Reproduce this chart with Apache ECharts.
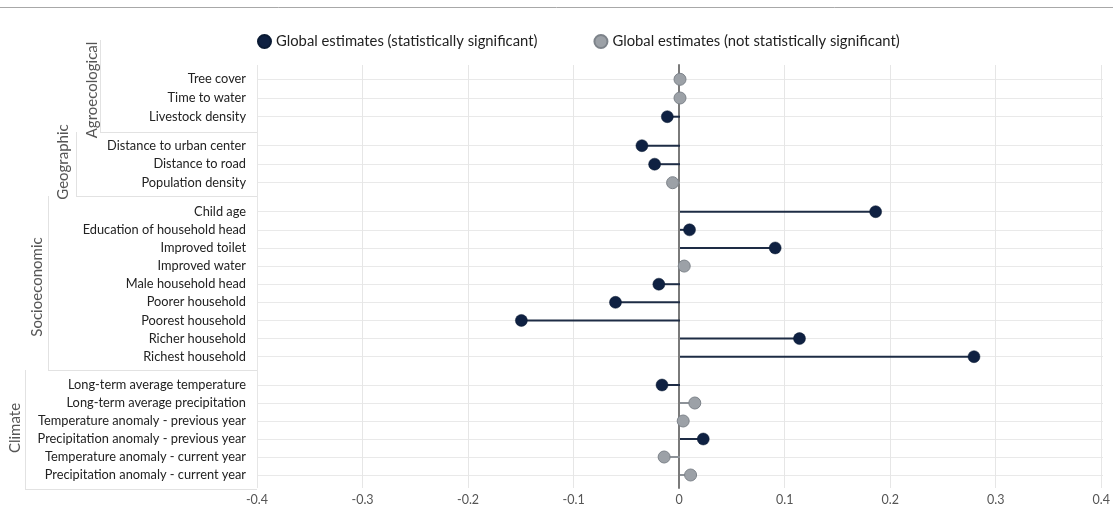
<!DOCTYPE html>
<html><head><meta charset="utf-8">
<script src="https://cdn.jsdelivr.net/npm/echarts@6/dist/echarts.min.js"></script>
<style>html,body{margin:0;padding:0;background:#fff}#c{width:1113px;height:506px}</style>
</head><body><div id="c"></div>
<script>
// ---- data ----
const groupNames = ['Agroecological', 'Geographic', 'Socioeconomic', 'Climate'];
const agroNames = ['Tree cover', 'Time to water', 'Livestock density'];
const agroValues = [0.0, 0.0, -0.012];
const agroSig = [0, 0, 1];
const geoNames = ['Distance to urban center', 'Distance to road', 'Population density'];
const geoValues = [-0.036, -0.024, -0.007];
const geoSig = [1, 1, 0];
const socioNames = ['Child age', 'Education of household head', 'Improved toilet', 'Improved water',
  'Male household head', 'Poorer household', 'Poorest household', 'Richer household', 'Richest household'];
const socioValues = [0.185, 0.009, 0.090, 0.004, -0.020, -0.061, -0.150, 0.113, 0.278];
const socioSig = [1, 1, 1, 0, 1, 1, 1, 1, 1];
const climNames = ['Long-term average temperature', 'Long-term average precipitation',
  'Temperature anomaly - previous year', 'Precipitation anomaly - previous year',
  'Temperature anomaly - current year', 'Precipitation anomaly - current year'];
const climValues = [-0.017, 0.014, 0.003, 0.022, -0.015, 0.010];
const climSig = [1, 0, 0, 1, 0, 0];
const xTicks = [-0.4, -0.3, -0.2, -0.1, 0, 0.1, 0.2, 0.3, 0.4];
const seriesSigName = 'Global estimates (statistically significant)';
const seriesNsName = 'Global estimates (not statistically significant)';

// ---- style / layout ----
const DARK = '#0f2142', GRAY = '#9ca1a7', GRAY_BORDER = '#7d838a', GRAY_STEM = '#8d9298';
const FONT = 'Lato';
const L = 257, R = 10;
const groupDefs = [
  {names: agroNames, values: agroValues, sig: agroSig, top: 79.3, bottom: 116.7},
  {names: geoNames, values: geoValues, sig: geoSig, top: 145.7, bottom: 182.7},
  {names: socioNames, values: socioValues, sig: socioSig, top: 211.7, bottom: 356.7},
  {names: climNames, values: climValues, sig: climSig, top: 385, bottom: 475}
];
const H = 506;

const grid = [{left: L, right: R, top: 65, bottom: H - 490}];
const xAxis = [{
  gridIndex: 0, type: 'value', min: xTicks[0], max: xTicks[xTicks.length - 1], interval: 0.1,
  axisLine: {show: false}, axisTick: {show: false},
  splitLine: {show: true, lineStyle: {color: '#e6e6e6', width: 1}},
  axisLabel: {show: true, margin: 5, fontFamily: FONT, fontSize: 12.5, color: '#555',
    formatter: v => String(Math.round(v * 10) / 10)}
}];
const yAxis = [{
  gridIndex: 0, type: 'value', min: 0, max: 1, show: true,
  axisLine: {show: true, onZero: true, lineStyle: {color: '#7a7a7a', width: 2}},
  axisTick: {show: false}, axisLabel: {show: false}, splitLine: {show: false}
}];
const series = [{type: 'scatter', xAxisIndex: 0, yAxisIndex: 0, data: [], silent: true}];

groupDefs.forEach((g, i) => {
  const gi = i + 1;
  grid.push({left: L, right: R, top: g.top, height: g.bottom - g.top});
  xAxis.push({gridIndex: gi, type: 'value', min: xTicks[0], max: xTicks[xTicks.length - 1],
    interval: 0.1, show: false, splitLine: {show: false}});
  yAxis.push({gridIndex: gi, type: 'category', data: g.names, inverse: true, boundaryGap: false,
    axisLine: {show: false}, axisTick: {show: false},
    splitLine: {show: true, lineStyle: {color: '#e9e9e9', width: 1}},
    axisLabel: {margin: 11, fontFamily: FONT, fontSize: 12.8, color: '#222'}});
  const all = g.names.map((n, k) => [g.values[k], n, g.sig[k]]);
  series.push({
    type: 'custom', xAxisIndex: gi, yAxisIndex: gi, silent: true, z: 3,
    encode: {x: 0, y: 1},
    data: all,
    renderItem: (params, api) => {
      const v = api.value(0), c = api.value(1), s = api.value(2);
      const p0 = api.coord([0, c]), p1 = api.coord([v, c]);
      return {type: 'line', shape: {x1: p0[0], y1: p0[1], x2: p1[0], y2: p1[1]},
        style: {stroke: s ? '#1e2c45' : GRAY_STEM, lineWidth: 2}};
    }
  });
  series.push({
    name: seriesSigName, type: 'scatter', xAxisIndex: gi, yAxisIndex: gi, z: 5,
    symbol: 'circle', symbolSize: 12,
    itemStyle: {color: DARK, borderColor: '#0a1a33', borderWidth: 0.5, opacity: 1},
    data: all.filter(d => d[2] === 1).map(d => [d[0], d[1]])
  });
  series.push({
    name: seriesNsName, type: 'scatter', xAxisIndex: gi, yAxisIndex: gi, z: 4,
    symbol: 'circle', symbolSize: 12,
    itemStyle: {color: GRAY, borderColor: GRAY_BORDER, borderWidth: 1, opacity: 1},
    data: all.filter(d => d[2] === 0).map(d => [d[0], d[1]])
  });
});

// group brackets (decoration)
const BR = '#e2e2e2';
const brackets = [
  {x: 100, y0: 40, y1: 132, tx: 92, ty: 90},
  {x: 76, y0: 132, y1: 196, tx: 63, ty: 162},
  {x: 48, y0: 196, y1: 370, tx: 37, ty: 287},
  {x: 25, y0: 370, y1: 489, tx: 15, ty: 428}
];
const graphic = [{type: 'line', shape: {x1: 0, y1: 7.5, x2: 1113, y2: 7.5},
  style: {stroke: '#a8a8a8', lineWidth: 1}, silent: true}];
brackets.forEach((b, i) => {
  graphic.push({type: 'line', shape: {x1: b.x + 0.5, y1: b.y0, x2: b.x + 0.5, y2: b.y1},
    style: {stroke: BR, lineWidth: 1}, silent: true});
  graphic.push({type: 'line', shape: {x1: b.x, y1: b.y1 + 0.5, x2: L, y2: b.y1 + 0.5},
    style: {stroke: BR, lineWidth: 1}, silent: true});
  graphic.push({type: 'text', x: b.tx, y: b.ty, rotation: Math.PI / 2, silent: true,
    style: {text: groupNames[i], fontFamily: FONT, fontSize: 15, fill: '#555',
      align: 'center', verticalAlign: 'middle'}});
});

const option = {
  animation: false,
  backgroundColor: '#fff',
  legend: {
    left: 252, top: 29, itemWidth: 13, itemHeight: 13, itemGap: 56, icon: 'circle',
    textStyle: {fontFamily: FONT, fontSize: 14.8, color: '#222'},
    data: [seriesSigName, seriesNsName]
  },
  grid, xAxis, yAxis, series, graphic
};
echarts.init(document.getElementById('c'), null, {renderer: 'canvas'}).setOption(option);
</script></body></html>
